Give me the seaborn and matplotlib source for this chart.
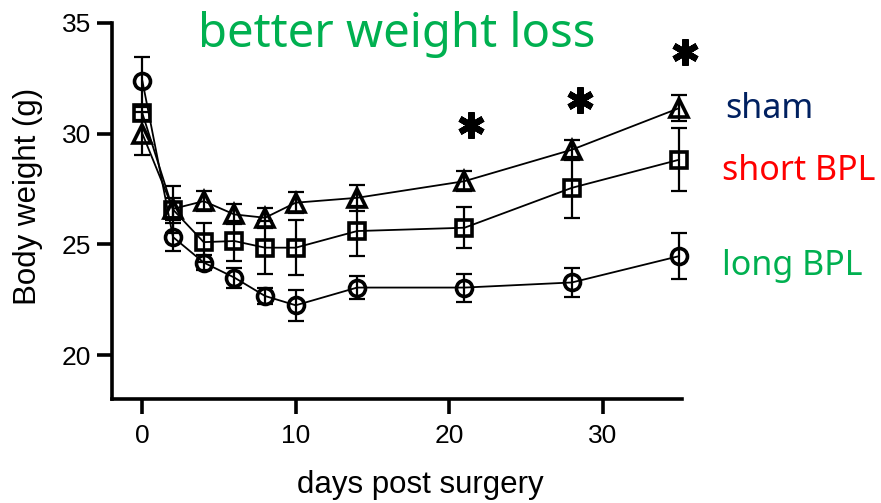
import seaborn as sns
import matplotlib.pyplot as plt
import pandas as pd

# Body weight (g), mean and error per group
days = [0, 2, 4, 6, 8, 10, 14, 21, 28, 35]
sham_mean = [30.0, 26.6, 26.95, 26.35, 26.2, 26.88, 27.1, 27.85, 29.27, 31.15]
sham_err = [0.95, 0.5, 0.45, 0.45, 0.45, 0.47, 0.6, 0.45, 0.45, 0.6]
short_mean = [30.92, 26.57, 25.1, 25.15, 24.85, 24.85, 25.6, 25.75, 27.55, 28.82]
short_err = [0.3, 1.05, 0.88, 0.9, 1.2, 1.25, 1.13, 0.93, 1.38, 1.42]
long_mean = [32.39, 25.33, 24.18, 23.5, 22.67, 22.25, 23.05, 23.05, 23.28, 24.47]
long_err = [1.08, 0.63, 0.35, 0.45, 0.35, 0.7, 0.5, 0.63, 0.67, 1.05]

groups = ['sham', 'short BPL', 'long BPL']
group_markers = {'sham': '^', 'short BPL': 's', 'long BPL': 'o'}
group_colors = {'sham': '#002060', 'short BPL': '#FF0000', 'long BPL': '#00B050'}

# significance stars
sig_days = [21.4, 28.5, 35.4]
sig_y = [30.4, 31.5, 33.7]

df = pd.concat([
    pd.DataFrame({'day': days, 'weight': sham_mean, 'err': sham_err, 'group': 'sham'}),
    pd.DataFrame({'day': days, 'weight': short_mean, 'err': short_err, 'group': 'short BPL'}),
    pd.DataFrame({'day': days, 'weight': long_mean, 'err': long_err, 'group': 'long BPL'}),
])

sns.set_style('ticks')
plt.rcParams['font.family'] = ['Liberation Sans', 'DejaVu Sans']
plt.rcParams['text.color'] = 'black'
plt.rcParams['axes.labelcolor'] = 'black'
plt.rcParams['xtick.color'] = 'black'
plt.rcParams['ytick.color'] = 'black'
plt.rcParams['axes.edgecolor'] = 'black'

fig = plt.figure(figsize=(8.81, 5.03), dpi=100)
ax = fig.add_axes([0.1268, 0.2058, 0.647, 0.749])

sns.lineplot(data=df, x='day', y='weight', hue='group', style='group',
             palette={g: 'black' for g in groups}, markers=group_markers,
             dashes=False, errorbar=None, legend=False, ax=ax,
             linewidth=1.3, markersize=11.5, markerfacecolor='none',
             markeredgecolor='black', markeredgewidth=2.6, clip_on=False)
for line in ax.lines:
    if line.get_marker() == '^':
        line.set_markersize(12.5)

for g in groups:
    sub = df[df['group'] == g]
    ax.errorbar(sub['day'], sub['weight'], yerr=sub['err'], fmt='none',
                ecolor='black', elinewidth=1.6, capsize=5.8, capthick=1.6,
                clip_on=False)

ax.plot(sig_days, sig_y, linestyle='none', marker=(6, 2, 0), markersize=19,
        markeredgewidth=4.5, color='black', clip_on=False)

ax.set_xlim(-1.994, 35.16)
ax.set_ylim(18, 35)
ax.set_xticks([0, 10, 20, 30])
ax.set_yticks([20, 25, 30, 35])
sns.despine(ax=ax)
for side in ['left', 'bottom']:
    ax.spines[side].set_linewidth(2.6)
    ax.spines[side].set_color('black')
ax.tick_params(axis='both', length=11, width=2.6, labelsize=19, color='black',
               labelcolor='black')
ax.tick_params(axis='x', pad=6.5)
ax.tick_params(axis='y', pad=3.6)

ax.set_xlabel('days post surgery', fontsize=22.5, color='black')
ax.set_ylabel('Body weight (g)', fontsize=22.5, color='black')
ax.xaxis.set_label_coords(0.541, -0.187)
ax.yaxis.set_label_coords(-0.12, 0.539)

fig.text(0.4506, 0.907, 'better weight loss', color='#00B050', fontsize=34,
         family='Noto Sans', ha='center', va='baseline')
label_pos = {'sham': (0.823, 0.765), 'short BPL': (0.8195, 0.642), 'long BPL': (0.8195, 0.453)}
for g in groups:
    fig.text(label_pos[g][0], label_pos[g][1], g, color=group_colors[g],
             fontsize=24.5, family='Noto Sans', ha='left', va='baseline')

plt.savefig('out.png', dpi=100)
plt.close()
